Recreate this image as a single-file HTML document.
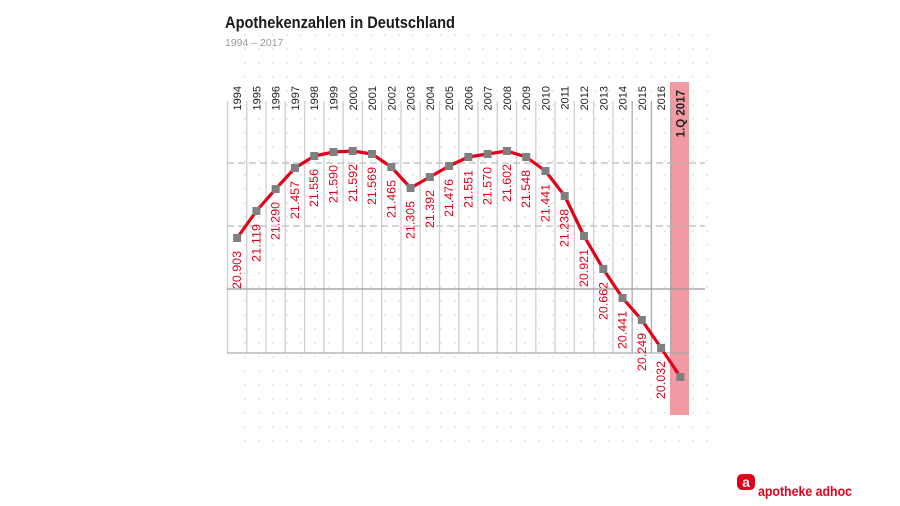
<!DOCTYPE html>
<html><head><meta charset="utf-8"><style>
html,body{margin:0;padding:0;background:#fff;}
svg{display:block;font-family:"Liberation Sans",sans-serif;}
</style></head><body>
<svg width="900" height="506" viewBox="0 0 900 506" xmlns="http://www.w3.org/2000/svg">
<defs>
<pattern id="dots" x="0" y="0" width="14" height="14" patternUnits="userSpaceOnUse">
<rect x="6" y="6" width="2" height="2" fill="#ebebeb"/>
</pattern>
</defs>
<rect x="232" y="32" width="480" height="416" fill="url(#dots)"/>
<text x="225" y="28" font-size="16.5" font-weight="bold" fill="#1a1a1a" textLength="230" lengthAdjust="spacingAndGlyphs">Apothekenzahlen in Deutschland</text>
<text x="225" y="46" font-size="10.5" fill="#999">1994 – 2017</text>
<rect x="670" y="82" width="19" height="333" fill="#f19aa3"/>
<g id="grid"></g>
<g id="labels"></g>
<polyline id="line" fill="none" stroke="#e2001a" stroke-width="3.2" stroke-linejoin="round"/>
<g id="marks"></g>
<rect x="737" y="474" width="18" height="16" rx="5" fill="#e2001a"/>
<text x="746" y="487" font-size="14" font-weight="bold" fill="#fff" text-anchor="middle">a</text>
<text x="758" y="496" font-size="13.5" font-weight="bold" fill="#e2001a" textLength="94" lengthAdjust="spacingAndGlyphs">apotheke adhoc</text>
<script>
var ns="http://www.w3.org/2000/svg";
function el(t,a,p,txt){var e=document.createElementNS(ns,t);for(var k in a)e.setAttribute(k,a[k]);if(txt)e.textContent=txt;document.getElementById(p).appendChild(e);return e;}
var x0=227.5,w=19.27;
var ys=[238,211,189,168,156,152,151,154,167,188,177,166,157,154,151,157,171,196,236,269,298,320,348,377];
var vals=["20.903","21.119","21.290","21.457","21.556","21.590","21.592","21.569","21.465","21.305","21.392","21.476","21.551","21.570","21.602","21.548","21.441","21.238","20.921","20.662","20.441","20.249","20.032"];
for(var i=0;i<=23;i++){var x=x0+i*w;el("line",{x1:x,y1:101,x2:x,y2:353,stroke:i>=21?"#aaa":"#cfcfcf","stroke-width":1.3},"grid");}
el("line",{x1:227,y1:163,x2:705,y2:163,stroke:"#bbb","stroke-width":1.2,"stroke-dasharray":"7,4"},"grid");
el("line",{x1:227,y1:226,x2:705,y2:226,stroke:"#bbb","stroke-width":1.2,"stroke-dasharray":"7,4"},"grid");
el("line",{x1:227,y1:289,x2:705,y2:289,stroke:"#999","stroke-width":1.2},"grid");
el("line",{x1:227,y1:353,x2:689,y2:353,stroke:"#aaa","stroke-width":1.3},"grid");
var pts=[];
for(var i=0;i<24;i++){var cx=x0+w*(i+0.5);
 var yr=i<23?String(1994+i):"1.Q 2017";
 el("text",{x:0,y:0,"font-size":i<23?11:11.5,"font-weight":i<23?"normal":"bold",fill:"#222","text-anchor":"end",transform:"translate("+(cx+4)+","+(i<23?86:90)+") rotate(-90)"},"grid",yr);
 pts.push(cx+","+ys[i]);
 el("rect",{x:cx-4,y:ys[i]-4,width:8,height:8,fill:"#808080"},"marks");
 if(i<23){el("text",{x:0,y:0,"font-size":11.5,fill:"#e2001a","text-anchor":"end",textLength:38,lengthAdjust:"spacingAndGlyphs",transform:"translate("+(cx+4)+","+(ys[i]+13)+") rotate(-90)"},"labels",vals[i]);}
}
document.getElementById("line").setAttribute("points",pts.join(" "));
</script>
</svg>
</body></html>
